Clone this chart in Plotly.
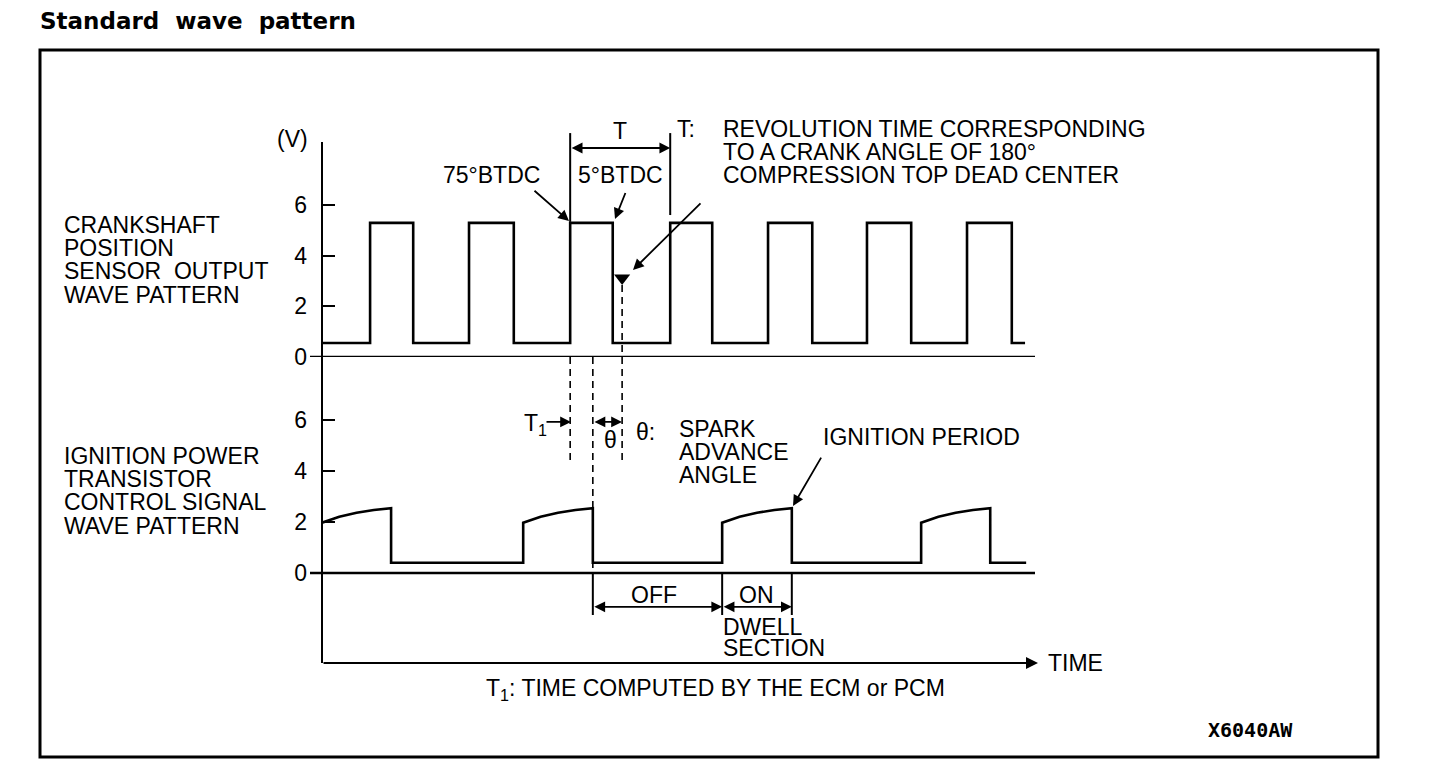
import plotly.graph_objects as go

# ---------------- data (time in crank-angle degrees, values in volts) ----------------
CKP_RISE_DEG = [87, 266, 449, 630, 807, 986, 1167]
CKP_FALL_DEG = [165, 347, 526, 706, 887, 1066, 1248]
CKP_HIGH_V = 5.3
CKP_LOW_V = 0.55
CKP_END_DEG = 1272

IGN_ON_DEG = [0, 364, 724, 1084]
IGN_OFF_DEG = [125, 490, 850, 1209]
IGN_RAMP_FRAC = [0.0, 0.25, 0.5, 0.75, 1.0]
IGN_RAMP_V = [1.97, 2.2, 2.36, 2.47, 2.54]
IGN_LOW_V = 0.4
IGN_END_DEG = 1274

TDC_DEG = 543
TDC_MARK_V = 3.12

Y_TICKS = [0, 2, 4, 6]

# ---------------- build step waveforms from the data ----------------
ckp_x, ckp_y = [0], [CKP_LOW_V]
for r, f in zip(CKP_RISE_DEG, CKP_FALL_DEG):
    ckp_x += [r, r, f, f]
    ckp_y += [CKP_LOW_V, CKP_HIGH_V, CKP_HIGH_V, CKP_LOW_V]
ckp_x.append(CKP_END_DEG)
ckp_y.append(CKP_LOW_V)

ign_x, ign_y = [], []
for on, off in zip(IGN_ON_DEG, IGN_OFF_DEG):
    if ign_x:
        ign_x.append(on)
        ign_y.append(IGN_LOW_V)
    for fr, v in zip(IGN_RAMP_FRAC, IGN_RAMP_V):
        ign_x.append(on + fr * (off - on))
        ign_y.append(v)
    ign_x.append(off)
    ign_y.append(IGN_LOW_V)
ign_x.append(IGN_END_DEG)
ign_y.append(IGN_LOW_V)

# ---------------- layout helpers ----------------
W, H = 1440, 772
SY = 1.017          # vertical layout correction for the capture
FONT = "Liberation Sans, Arial, Helvetica, sans-serif"
FS = 23


def PX(x):
    return x / W


def PY(y):
    return 1 - (y * SY) / H


fig = go.Figure()
fig.add_trace(go.Scatter(x=ckp_x, y=ckp_y, mode="lines", xaxis="x", yaxis="y",
                         line=dict(color="black", width=2.6), hoverinfo="skip"))
fig.add_trace(go.Scatter(x=ign_x, y=ign_y, mode="lines", xaxis="x", yaxis="y2",
                         line=dict(color="black", width=2.6), hoverinfo="skip"))
fig.add_trace(go.Scatter(x=[TDC_DEG], y=[TDC_MARK_V], mode="markers", xaxis="x", yaxis="y",
                         marker=dict(symbol="triangle-down", size=14, color="black"),
                         hoverinfo="skip"))

annotations = []
shapes = []


def text(x, y, s, size=FS, family=FONT, anchor="left", weight="normal"):
    annotations.append(dict(x=PX(x), y=PY(y), xref="paper", yref="paper", text=s,
                            showarrow=False, xanchor=anchor, yanchor="middle",
                            font=dict(family=family, size=size, color="black",
                                      weight=weight)))


def parrow(xt, yt, xh, yh, both=False, width=1.8, size=1.2):
    d = dict(x=PX(xh), y=PY(yh), xref="paper", yref="paper", text="",
             showarrow=True, ax=xt - xh, ay=(yt - yh) * SY, arrowhead=2, arrowsize=size,
             arrowwidth=width, arrowcolor="black", standoff=0, startstandoff=0)
    if both:
        d.update(arrowside="end+start", startarrowhead=2, startarrowsize=size)
    annotations.append(d)


def darrow(x0, x1, yv, yref):
    annotations.append(dict(x=x1, y=yv, xref="x", yref=yref, ax=x0, ay=yv, axref="x",
                            ayref=yref, text="", showarrow=True, arrowhead=2,
                            startarrowhead=2, arrowside="end+start", arrowsize=1.2,
                            startarrowsize=1.2, arrowwidth=1.8, arrowcolor="black",
                            standoff=0, startstandoff=0))


def line(x0, y0, x1, y1, xref="paper", yref="paper", width=2, dash="solid"):
    shapes.append(dict(type="line", x0=x0, y0=y0, x1=x1, y1=y1, xref=xref, yref=yref,
                       line=dict(color="black", width=width, dash=dash)))


# frame, vertical axis, zero lines, time axis
shapes.append(dict(type="rect", x0=PX(40), x1=PX(1378), y0=PY(757), y1=PY(50),
                   xref="paper", yref="paper", line=dict(color="black", width=3)))
line(PX(322), PY(142), PX(322), PY(663), width=2)
line(PX(310), 0, PX(1035), 0, yref="y", width=2.5)
line(PX(310), 0, PX(1035), 0, yref="y2", width=2.5)
parrow(322, 663, 1038, 663, width=2)

# T bracket
line(CKP_RISE_DEG[2], 5.34, CKP_RISE_DEG[2], 8.85, xref="x", yref="y", width=2)
line(CKP_RISE_DEG[3], 5.61, CKP_RISE_DEG[3], 8.85, xref="x", yref="y", width=2)
darrow(CKP_RISE_DEG[2], CKP_RISE_DEG[3], 8.26, "y")

# dashed timing lines
line(CKP_RISE_DEG[2], PY(357), CKP_RISE_DEG[2], PY(465), xref="x", width=1.6, dash="7px,5px")
line(IGN_OFF_DEG[1], PY(357), IGN_OFF_DEG[1], PY(573), xref="x", width=1.6, dash="7px,5px")
line(TDC_DEG, PY(285), TDC_DEG, PY(462), xref="x", width=1.6, dash="7px,5px")

# OFF / ON dwell markers
for xv in (IGN_OFF_DEG[1], IGN_ON_DEG[2], IGN_OFF_DEG[2]):
    line(xv, 0, xv, -1.65, xref="x", yref="y2", width=2)
darrow(IGN_OFF_DEG[1], IGN_ON_DEG[2], -1.33, "y2")
darrow(IGN_ON_DEG[2], IGN_OFF_DEG[2], -1.33, "y2")

# pointer arrows
parrow(533, 190, 569, 221)
parrow(626, 192, 615, 219)
parrow(702, 203, 633, 270)
parrow(545, 422, 571, 422)
parrow(593, 422, 622, 422, both=True)
parrow(822, 457, 793, 506)

# texts
text(38, 21, "Standard  wave  pattern", size=23, family="DejaVu Sans, Arial, sans-serif",
     weight="bold")
for s, y in [("CRANKSHAFT", 225), ("POSITION", 248), ("SENSOR  OUTPUT", 271),
             ("WAVE PATTERN", 295), ("IGNITION POWER", 456), ("TRANSISTOR", 479),
             ("CONTROL SIGNAL", 502), ("WAVE PATTERN", 526)]:
    text(62, y, s)
text(275, 139, "(V)")
text(441, 175, "75°BTDC")
text(576, 175, "5°BTDC")
text(611, 131, "T")
text(675, 129, "T:")
text(721, 129, "REVOLUTION TIME CORRESPONDING")
text(721, 152, "TO A CRANK ANGLE OF 180°")
text(721, 175, "COMPRESSION TOP DEAD CENTER")
text(522, 425, "T<sub>1</sub>")
text(602, 440, "θ")
text(634, 432, "θ:")
text(677, 429, "SPARK")
text(677, 452, "ADVANCE")
text(677, 475, "ANGLE")
text(821, 437, "IGNITION PERIOD")
text(629, 595, "OFF")
text(737, 595, "ON")
text(721, 627, "DWELL")
text(721, 648, "SECTION")
text(1046, 663, "TIME")
text(484, 690, "T<sub>1</sub>: TIME COMPUTED BY THE ECM or PCM")
text(1250, 730, "X6040AW", size=20, family="DejaVu Sans Mono, monospace", anchor="center",
     weight="bold")

axis_common = dict(tickvals=Y_TICKS, ticks="inside", ticklen=13, tickwidth=2,
                   tickcolor="black", showgrid=False, zeroline=False, showline=False,
                   tickfont=dict(family=FONT, size=FS, color="black"),
                   ticklabelstandoff=14, fixedrange=True, anchor="x")

fig.update_layout(
    width=W, height=H, margin=dict(l=0, r=0, t=0, b=0),
    paper_bgcolor="white", plot_bgcolor="rgba(0,0,0,0)", showlegend=False,
    hovermode=False,
    xaxis=dict(domain=[PX(322), PX(1035)], range=[0, 1290], visible=False,
               fixedrange=True, anchor="y2"),
    yaxis=dict(domain=[PY(357), PY(100)], range=[0, (357 - 100) / 25.3], **axis_common),
    yaxis2=dict(domain=[PY(663), PY(360)], range=[-(663 - 573) / 25.5, (573 - 360) / 25.5],
                **axis_common),
    annotations=annotations, shapes=shapes,
)

POST = (
    "var d=document.getElementById('{plot_id}');"
    "d.style.position='fixed';d.style.left='0px';d.style.top='0px';"
    "document.documentElement.style.overflow='hidden';"
    "document.body.style.margin='0';document.body.style.overflow='hidden';"
)

fig.write_html(
    "out.html",
    config={"displayModeBar": False, "staticPlot": True},
    post_script=POST,
)
